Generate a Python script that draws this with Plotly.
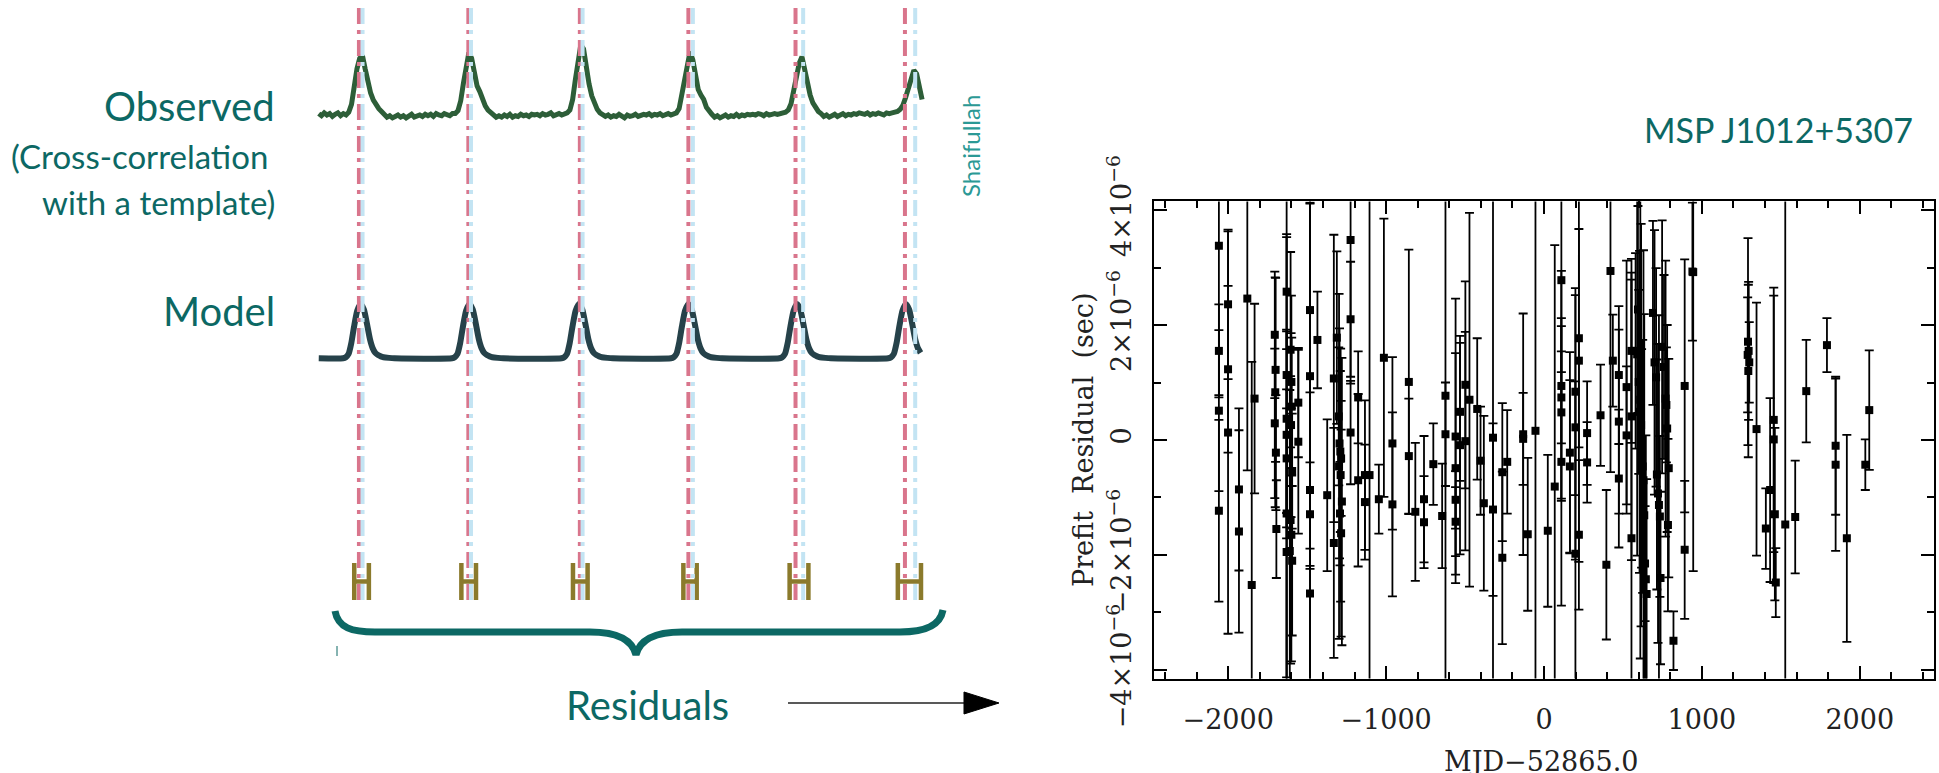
import plotly.graph_objects as go

W, H = 1939, 773

# ---------------- Right panel: prefit timing residuals (MSP J1012+5307) ----------------
res_mjd = [-2059, -2059, -2059, -2059, -2001, -2001, -2001, -1932, -1932, -1879,
           -1851, -1833, -1705, -1700, -1702, -1705, -1698, -1695, -1630, -1630,
           -1630, -1630, -1630, -1630, -1630, -1605, -1600, -1598, -1602, -1595,
           -1605, -1600, -1610, -1595, -1556, -1556, -1482, -1482, -1482, -1482,
           -1482, -1435, -1373, -1331, -1331, -1312, -1300, -1295, -1290, -1285,
           -1298, -1288, -1280, -1292, -1285, -1225, -1225, -1225, -1177, -1177,
           -1134, -1134, -1105, -1046, -1014, -960, -960, -856, -856, -815,
           -760, -760, -701, -645, -624, -624, -560, -560, -560, -560,
           -532, -532, -498, -498, -472, -423, -402, -381, -323, -323,
           -264, -264, -233, -132, -132, -103, -54, 24, 68, 110,
           110, 110, 110, 110, 164, 164, 199, 199, 199, 221,
           221, 221, 273, 273, 358, 395, 421, 436, 474, 474,
           474, 523, 523, 554, 554, 554, 580, 590, 595, 600,
           605, 610, 615, 618, 625, 630, 635, 640, 645, 650,
           690, 700, 710, 715, 722, 728, 734, 738, 748, 760,
           770, 775, 780, 790, 785, 820, 891, 891, 940, 945,
           1292, 1296, 1290, 1300, 1294, 1346, 1405, 1432, 1455, 1455,
           1462, 1468, 1528, 1591, 1661, 1792, 1847, 1847, 1918, 2035,
           2060]
res_us = [3.38, 1.55, 0.51, -1.23, 2.36, 1.23, 0.13, -0.86, -1.59, 2.46,
          -2.52, 0.72, 1.83, 1.22, 0.83, 0.29, -0.22, -1.55, 2.58, 1.13,
          0.37, 0.09, -0.32, -1.28, -1.95, 1.57, 1.01, 0.58, 0.26, -0.54,
          -1.39, -1.65, -1.93, -2.10, 0.65, -0.03, 2.26, 1.11, -0.87, -1.29,
          -2.67, 1.74, -0.96, 1.07, -1.79, 1.78, 0.41, -0.06, -0.20, -0.32,
          -0.46, -0.61, -1.07, -1.28, -1.62, 3.48, 2.10, 0.13, 0.74, -0.70,
          -0.61, -1.08, -0.61, -1.03, 1.43, -0.06, -1.12, 1.01, -0.28, -1.25,
          -1.03, -1.43, -0.42, -1.32, 0.77, 0.10, 0.06, -0.49, -1.04, -1.42,
          0.49, -0.09, 0.96, -0.02, 0.70, 0.54, -0.36, -1.10, 0.04, -1.21,
          -2.05, -0.56, -0.38, 0.10, 0.02, -1.64, 0.16, -1.58, -0.81, 2.78,
          0.94, 0.74, 0.48, -0.38, -0.22, -0.46, 0.84, 0.22, -1.98, 1.77,
          1.38, -1.65, 0.12, -0.39, 0.43, -2.17, 2.94, 1.38, 1.13, 0.32,
          -0.67, 0.92, 0.08, 1.55, 0.41, -1.71, 1.55, 1.49, 2.27, 1.01,
          0.49, 0.70, 0.26, -0.32, -0.46, -0.70, -1.31, -2.15, -2.42, -2.68,
          2.21, 1.35, 1.09, -0.60, -0.93, -1.13, -1.33, -2.40, 1.62, 1.27,
          0.72, 0.61, 0.20, -0.49, -1.48, -3.49, 0.94, -1.91, 2.93, 2.92,
          1.71, 1.55, 1.48, 1.35, 1.20, 0.19, -1.54, -0.87, 0.35, 0.01,
          -1.29, -2.48, -1.47, -1.34, 0.85, 1.65, -0.10, -0.43, -1.71, -0.43,
          0.52]
res_err_us = [2.6, 0.81, 1.40, 1.58, 1.3, 1.45, 3.5, 1.41, 1.76, 2.99,
              3.88, 1.65, 1.1, 1.6, 2.0, 1.3, 1.0, 0.85, 1.0, 2.4,
              4.5, 1.8, 1.2, 3.2, 2.5, 1.7, 1.5, 1.2, 1.6, 1.0,
              2.5, 2.2, 2.8, 1.3, 0.95, 1.6, 4.5, 3.0, 5.0, 0.9,
              3.5, 0.84, 1.32, 2.5, 2.0, 1.5, 1.2, 2.0, 1.4, 1.0,
              3.0, 2.2, 2.5, 0.9, 1.8, 2.5, 1.0, 0.9, 0.8, 1.5,
              1.3, 1.0, 5.0, 0.6, 2.42, 1.5, 1.6, 2.3, 1.0, 1.2,
              1.1, 0.8, 0.71, 0.91, 5.0, 0.9, 2.4, 2.0, 0.5, 0.6,
              1.2, 1.9, 1.8, 1.9, 3.25, 1.23, 0.94, 1.52, 5.0, 1.5,
              1.5, 1.2, 0.9, 2.1, 0.8, 1.33, 5.0, 1.32, 4.2, 1.6,
              2.0, 0.8, 1.5, 2.5, 1.75, 1.5, 1.8, 2.3, 3.0, 1.9,
              3.5, 1.3, 0.9, 0.7, 0.88, 1.3, 3.5, 0.8, 1.2, 1.6,
              1.2, 2.2, 1.2, 1.6, 2.5, 4.5, 1.7, 3.5, 1.8, 1.6,
              2.8, 4.5, 3.5, 1.9, 2.2, 4.0, 3.5, 1.0, 2.5, 2.0,
              1.6, 2.3, 1.9, 2.0, 2.6, 3.3, 1.4, 1.5, 2.2, 1.6,
              2.4, 1.0, 1.8, 1.9, 1.5, 0.51, 2.2, 1.2, 1.2, 5.2,
              1.8, 1.2, 1.0, 0.7, 1.5, 2.2, 0.7, 1.6, 2.3, 2.5,
              1.5, 0.6, 8.0, 0.98, 0.89, 0.47, 1.2, 1.5, 1.8, 0.44,
              1.04]

mjd_ticks = [-2000, -1000, 0, 1000, 2000]
mjd_ticktext = ["\u22122000", "\u22121000", "0", "1000", "2000"]
res_ticks_us = [-4, -2, 0, 2, 4]
res_ticktext = ["\u22124\u00d710<sup>\u22126</sup>", "\u22122\u00d710<sup>\u22126</sup>", "0",
                "2\u00d710<sup>\u22126</sup>", "4\u00d710<sup>\u22126</sup>"]

# ---------------- Left panel: schematic (phase in pulse periods) ----------------
obs_phase = [round(i * 0.025, 3) for i in range(222)]
obs_flux = [
    # period 0
    0.02, -0.01, 0.03, 0.00, 0.02, -0.02, 0.01, 0.03, -0.01, 0.02, 0.00,
    0.04, 0.15, 0.42, 0.65, 0.80, 0.84, 0.65, 0.47, 0.31, 0.21, 0.14, 0.09, 0.05, 0.01,
    -0.03, -0.01, -0.04, -0.02, 0.00, -0.03, -0.01, -0.04, -0.02, 0.01, -0.03, -0.02, 0.00, -0.02, 0.01,
    # period 1
    -0.01, 0.01, -0.02, 0.02, 0.00, -0.01, 0.02, 0.01, -0.01, 0.02,
    0.02, 0.06, 0.20, 0.45, 0.68, 0.88, 0.80, 0.56, 0.41, 0.33, 0.22, 0.13, 0.07, 0.03, 0.00,
    -0.03, -0.01, -0.03, 0.00, -0.02, 0.01, -0.03, -0.01, -0.02, 0.01, -0.01, 0.00, -0.02, 0.01, 0.00,
    # period 2
    0.01, -0.01, 0.02, 0.00, 0.01, 0.03, -0.01, 0.01, 0.02, 0.00,
    0.01, 0.03, 0.07, 0.22, 0.50, 0.78, 0.99, 0.93, 0.66, 0.44, 0.27, 0.15, 0.08, 0.03, 0.00,
    -0.02, 0.00, -0.03, -0.01, -0.02, 0.01, -0.02, -0.04, 0.00, -0.02, -0.01, 0.01, -0.02, 0.00, 0.01,
    # period 3
    0.00, 0.02, -0.01, 0.01, 0.00, 0.02, -0.01, 0.01, 0.02, 0.00,
    0.01, 0.03, 0.09, 0.30, 0.55, 0.75, 0.89, 0.78, 0.55, 0.36, 0.28, 0.22, 0.11, 0.05, 0.01,
    -0.03, -0.01, -0.04, -0.02, 0.00, -0.03, -0.01, -0.02, 0.01, -0.02, 0.00, -0.01, 0.01, 0.00, 0.01,
    # period 4
    0.00, 0.02, 0.01, -0.01, 0.02, 0.00, 0.01, 0.02, 0.01, 0.02, 0.03,
    0.04, 0.07, 0.16, 0.35, 0.55, 0.73, 0.82, 0.63, 0.43, 0.28, 0.17, 0.10, 0.05, 0.02,
    -0.02, 0.00, -0.03, -0.01, 0.01, -0.02, 0.00, 0.02, -0.01, 0.01, 0.00, 0.02, 0.01, 0.03, 0.02,
    # period 5
    0.01, 0.03, 0.00, 0.02, 0.01, 0.03, 0.02, 0.00, 0.03, 0.02, 0.03, 0.04,
    0.05, 0.08, 0.14, 0.25, 0.36, 0.48, 0.63, 0.58, 0.40, 0.22,
]
n_obs = min(len(obs_phase), len(obs_flux))

model_peak_phase = [0.383, 1.380, 2.383, 3.385, 4.379, 5.376]
template_offset = [-0.16, -0.135, -0.11, -0.085, -0.06, -0.03, 0.0, 0.03, 0.06,
                   0.085, 0.11, 0.135, 0.16, 0.185, 0.21, 0.26, 0.31]
template_flux = [0.0, 0.02, 0.08, 0.28, 0.58, 0.88, 1.0, 0.90, 0.62,
                 0.36, 0.19, 0.10, 0.06, 0.035, 0.02, 0.008, 0.0]

model_toa_phase = [0.368, 1.370, 2.391, 3.385, 4.366, 5.368]   # pink lines
obs_toa_phase = [0.401, 1.394, 2.416, 3.426, 4.436, 5.462]     # light-blue lines
resid_phase = [0.392, 1.373, 2.395, 3.400, 4.398, 5.409]
resid_halfwidth = [0.067, 0.067, 0.067, 0.061, 0.086, 0.106]
resid_level = [0, 0, 0, 0, 0, 0]

# ---------------- colours / fonts ----------------
TEAL = "#0c6864"
TEAL_LIGHT = "#2b9995"
OBS_GREEN = "#2d5e38"
MODEL_DARK = "#26424a"
PINK = "#d9758c"
BLUE = "#c3e4f3"
OLIVE = "#8b7a2c"
SANS = "Lato, 'Open Sans', sans-serif"
SERIF = "'DejaVu Serif', 'Liberation Serif', serif"


def fx(px):
    return px / W


def fy(py):
    return 1 - py / H


# model trace assembled from the template at each model pulse
mx, my = [0.0], [0.0]
phase_end = obs_phase[n_obs - 1]
for p in model_peak_phase:
    for o, f in zip(template_offset, template_flux):
        if p + o <= phase_end + 1e-9:
            mx.append(p + o)
            my.append(f)

fig = go.Figure()

# right panel
fig.add_trace(go.Scatter(
    x=res_mjd, y=[v * 1e-6 for v in res_us], mode="markers",
    marker=dict(symbol="square", size=8, color="black"),
    error_y=dict(type="data", array=[e * 1e-6 for e in res_err_us], visible=True,
                 color="black", thickness=1.8, width=4.5),
    xaxis="x", yaxis="y", hoverinfo="skip"))

# schematic traces
fig.add_trace(go.Scatter(
    x=obs_phase[:n_obs], y=obs_flux[:n_obs], mode="lines",
    line=dict(color=OBS_GREEN, width=5), xaxis="x2", yaxis="y2", hoverinfo="skip"))
fig.add_trace(go.Scatter(
    x=mx, y=my, mode="lines",
    line=dict(color=MODEL_DARK, width=6, shape="spline", smoothing=0.6),
    xaxis="x2", yaxis="y3", hoverinfo="skip"))
fig.add_trace(go.Scatter(
    x=resid_phase, y=resid_level, mode="markers",
    marker=dict(size=1, color=OLIVE),
    error_x=dict(type="data", array=resid_halfwidth, visible=True, color=OLIVE,
                 thickness=4.5, width=18.5),
    xaxis="x2", yaxis="y4", cliponaxis=False, hoverinfo="skip"))

shapes = []
for p in model_toa_phase:
    shapes.append(dict(type="line", xref="x2", yref="paper", x0=p, x1=p,
                       y0=fy(600), y1=fy(4), layer="above",
                       line=dict(color=PINK, width=4, dash="16px,6px,4px,6px")))
for p in obs_toa_phase:
    shapes.append(dict(type="line", xref="x2", yref="paper", x0=p, x1=p,
                       y0=fy(600), y1=fy(4), layer="above",
                       line=dict(color=BLUE, width=4, dash="16px,6px,4px,6px")))

# curly brace under residuals
brace_pts = [("M", [(335, 611)]),
             ("C", [(338, 628), (352, 632), (375, 632)]),
             ("L", [(590, 632)]),
             ("C", [(615, 632), (632, 638), (636, 655)]),
             ("C", [(640, 638), (657, 632), (682, 632)]),
             ("L", [(900, 632)]),
             ("C", [(925, 632), (940, 626), (943, 610)])]
path = ""
for cmd, pts in brace_pts:
    path += cmd + " " + " ".join(f"{fx(a):.5f},{fy(b):.5f}" for a, b in pts) + " "
shapes.append(dict(type="path", xref="paper", yref="paper", path=path.strip(),
                   line=dict(color=TEAL, width=7)))
shapes.append(dict(type="line", xref="paper", yref="paper", x0=fx(337), x1=fx(337),
                   y0=fy(646), y1=fy(656), line=dict(color=TEAL, width=1)))

# arrow to the residual plot
shapes.append(dict(type="line", xref="paper", yref="paper", x0=fx(788), x1=fx(968),
                   y0=fy(703), y1=fy(703), line=dict(color="#222222", width=1.6)))
shapes.append(dict(type="path", xref="paper", yref="paper",
                   path=f"M {fx(964):.5f},{fy(692):.5f} L {fx(999):.5f},{fy(703):.5f} "
                        f"L {fx(964):.5f},{fy(714):.5f} Z",
                   fillcolor="black", line=dict(color="black", width=1)))

annotations = [
    dict(text="Observed", x=fx(277), y=fy(106), xanchor="right", yanchor="middle",
         font=dict(family=SANS, size=40, color=TEAL)),
    dict(text="(Cross-correlation", x=fx(270), y=fy(156), xanchor="right", yanchor="middle",
         font=dict(family=SANS, size=33, color=TEAL)),
    dict(text="with a template)", x=fx(277), y=fy(202), xanchor="right", yanchor="middle",
         font=dict(family=SANS, size=33, color=TEAL)),
    dict(text="Model", x=fx(277), y=fy(311), xanchor="right", yanchor="middle",
         font=dict(family=SANS, size=40, color=TEAL)),
    dict(text="Residuals", x=fx(647), y=fy(705), xanchor="center", yanchor="middle",
         font=dict(family=SANS, size=40, color=TEAL)),
    dict(text="Shaifullah", x=fx(971), y=fy(146), xanchor="center", yanchor="middle",
         textangle=-90, font=dict(family=SANS, size=24, color=TEAL_LIGHT)),
    dict(text="MSP J1012+5307", x=fx(1778), y=fy(129), xanchor="center", yanchor="middle",
         font=dict(family=SANS, size=34, color=TEAL)),
    dict(text="Prefit  Residual  (sec)", x=fx(1083), y=fy(440), xanchor="center",
         yanchor="middle", textangle=-90, font=dict(family=SERIF, size=27, color="#222222")),
    dict(text="MJD\u221252865.0", x=fx(1541), y=fy(744), xanchor="center", yanchor="top",
         font=dict(family=SERIF, size=27, color="#222222")),
]
for a in annotations:
    a.update(xref="paper", yref="paper", showarrow=False)

axis_common = dict(showline=True, linecolor="black", linewidth=1.5, mirror="allticks",
                   ticks="inside", ticklen=13, tickwidth=1.5, tickcolor="black",
                   showgrid=False, zeroline=False, automargin=False,
                   tickfont=dict(family=SERIF, size=27, color="#222222"))

fig.update_layout(
    width=W, height=H, autosize=False,
    margin=dict(l=0, r=0, t=0, b=0, pad=0),
    paper_bgcolor="white", plot_bgcolor="rgba(0,0,0,0)",
    showlegend=False,
    xaxis=dict(domain=[fx(1154), fx(1934)], range=[-2470, 2470], anchor="y",
               tickmode="array", tickvals=mjd_ticks, ticktext=mjd_ticktext,
               ticklabelstandoff=16,
               minor=dict(ticks="inside", ticklen=7, tickwidth=1.5, tickcolor="black",
                          dtick=200, tick0=0, showgrid=False),
               **axis_common),
    yaxis=dict(domain=[fy(678.6), fy(201.4)], range=[-4.15e-6, 4.15e-6], anchor="x",
               tickmode="array", tickvals=[v * 1e-6 for v in res_ticks_us],
               ticktext=res_ticktext, tickangle=-90, ticklabelstandoff=10,
               minor=dict(ticks="inside", ticklen=7, tickwidth=1.5, tickcolor="black",
                          dtick=1e-6, tick0=0, showgrid=False),
               **axis_common),
    xaxis2=dict(domain=[0, 1], range=[-318.75 / 109.2, (W - 318.75) / 109.2],
                visible=False, anchor="y2", automargin=False),
    yaxis2=dict(domain=[0, 1], range=[-9.267, 1.620], visible=False, anchor="x2",
                automargin=False),
    yaxis3=dict(range=[-7.642, 6.603], visible=False, anchor="x2", overlaying="y2",
                automargin=False),
    yaxis4=dict(domain=[fy(620), fy(543)], range=[-1, 1], visible=False, anchor="x2",
                automargin=False),
    shapes=shapes,
    annotations=annotations,
)

fig.write_html("out.html", include_plotlyjs=True, config={"displayModeBar": False},
               post_script="document.body.style.margin='0';")
